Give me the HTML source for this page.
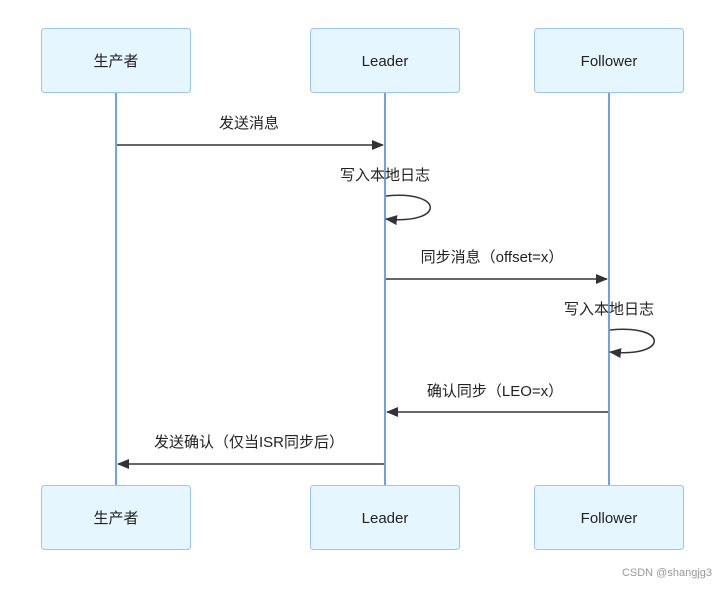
<!DOCTYPE html>
<html><head><meta charset="utf-8"><style>
body{margin:0;background:#fff;width:727px;height:584px;overflow:hidden}
svg text{font-family:"Liberation Sans","Noto Sans CJK SC",sans-serif;fill:#222}
</style></head><body>
<svg width="727" height="584" viewBox="0 0 727 584" xmlns="http://www.w3.org/2000/svg">
<defs><marker id="a" markerWidth="12" markerHeight="10" refX="11" refY="5" orient="auto" markerUnits="userSpaceOnUse"><path d="M0,0L12,5L0,10z" fill="#333"/></marker></defs>
<g stroke="#6f9ff5" stroke-width="2"><line x1="116" y1="93" x2="116" y2="485"/><line x1="385" y1="93" x2="385" y2="485"/><line x1="609" y1="93" x2="609" y2="485"/></g>
<g fill="#e6f6ff" stroke="#9dc3fb" stroke-width="1">
<rect x="41.5" y="28.5" width="149" height="64" rx="3"/><rect x="310.5" y="28.5" width="149" height="64" rx="3"/><rect x="534.5" y="28.5" width="149" height="64" rx="3"/>
<rect x="41.5" y="485.5" width="149" height="64" rx="3"/><rect x="310.5" y="485.5" width="149" height="64" rx="3"/><rect x="534.5" y="485.5" width="149" height="64" rx="3"/></g>
<g font-size="15" text-anchor="middle">
<text x="116" y="66">生产者</text><text x="385" y="66">Leader</text><text x="609" y="66">Follower</text>
<text x="116" y="523">生产者</text><text x="385" y="523">Leader</text><text x="609" y="523">Follower</text>
<text x="249" y="128">发送消息</text><text x="385" y="180">写入本地日志</text>
<text x="492" y="262">同步消息（offset=x）</text><text x="609" y="314">写入本地日志</text>
<text x="495" y="396">确认同步（LEO=x）</text><text x="249" y="447">发送确认（仅当ISR同步后）</text>
</g>
<g stroke="#333" stroke-width="1.5" fill="none">
<line x1="117" y1="145" x2="383" y2="145" marker-end="url(#a)"/>
<path d="M386,196 C445,190 445,225 386,219" marker-end="url(#a)"/>
<line x1="386" y1="279" x2="607" y2="279" marker-end="url(#a)"/>
<path d="M610,330 C669,324 669,358 610,352" marker-end="url(#a)"/>
<line x1="608" y1="412" x2="387" y2="412" marker-end="url(#a)"/>
<line x1="384" y1="464" x2="118" y2="464" marker-end="url(#a)"/>
</g>
<text x="712" y="576" font-size="11" text-anchor="end" style="fill:#999">CSDN @shangjg3</text>
</svg>
</body></html>
